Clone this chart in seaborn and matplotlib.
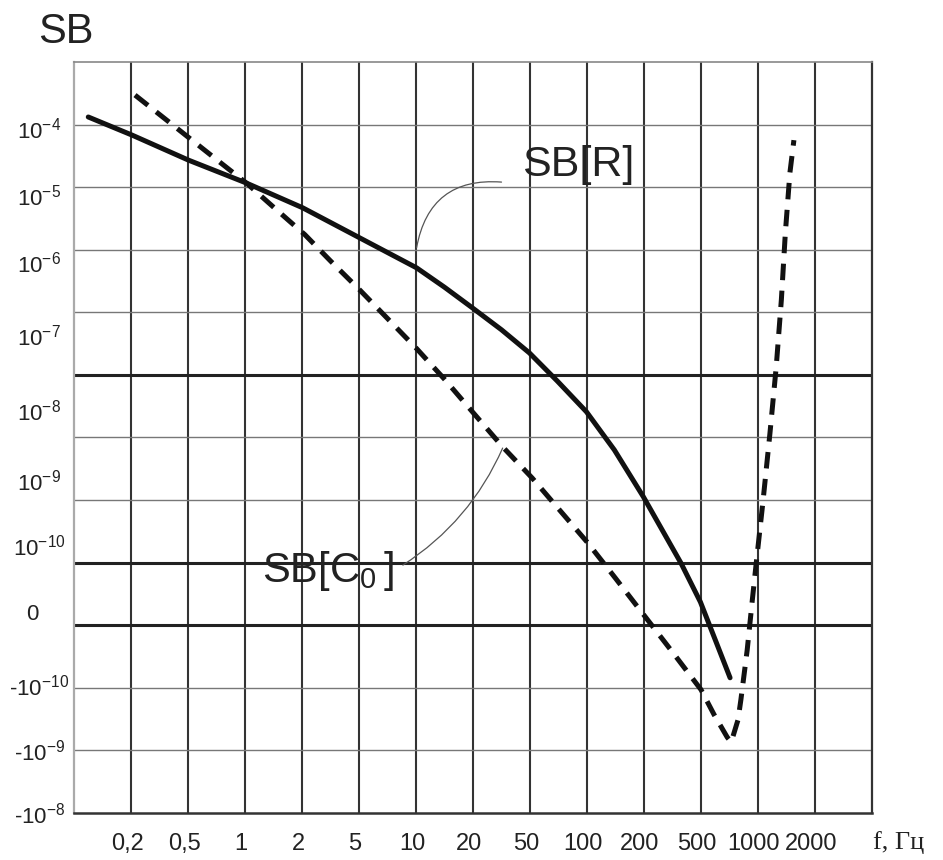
import matplotlib
matplotlib.use("Agg")
import matplotlib.pyplot as plt
import matplotlib.transforms as mtrans
import seaborn as sns
import pandas as pd

# ось f: номер колонки сетки (1 -> 0,2 Гц ... 13 -> 2000 Гц)
freq_ticks = [1, 2, 3, 4, 5, 6, 7, 8, 9, 10, 11, 12, 13]
freq_labels = ["0,2", "0,5", "1", "2", "5", "10", "20", "50",
               "100", "200", "500", "1000", "2000"]

# ось SB: подписи и их положение (в клетках сетки, снизу)
sb_ticks = [10.94, 9.87, 8.8, 7.64, 6.44, 5.32, 4.28, 3.21, 2.04, 1.01, 0.0]
sb_labels = [r"$\mathregular{10^{-4}}$", r"$\mathregular{10^{-5}}$",
             r"$\mathregular{10^{-6}}$", r"$\mathregular{10^{-7}}$",
             r"$\mathregular{10^{-8}}$", r"$\mathregular{10^{-9}}$",
             r"$\mathregular{10^{-10}}$", "0",
             "-" + r"$\mathregular{10^{-10}}$", "-" + r"$\mathregular{10^{-9}}$",
             "-" + r"$\mathregular{10^{-8}}$"]
thick_rows = [3, 4, 7]

# SB[R] - сплошная
sbr_x = [0.25, 1.02, 2.01, 3.01, 4.01, 5.01, 6.01, 6.5, 6.99, 7.5, 7.99,
         8.48, 8.99, 9.48, 9.99, 10.32, 10.65, 10.99, 11.27, 11.51]
sbr_y = [11.12, 10.83, 10.43, 10.07, 9.67, 9.19, 8.71, 8.40, 8.07, 7.72, 7.35,
         6.90, 6.41, 5.80, 5.05, 4.52, 3.99, 3.37, 2.72, 2.16]

# SB[C0] - пунктир
sbc_x = [1.07, 1.5, 2.0, 2.5, 3.03, 3.5, 4.05, 4.5, 5.02, 5.5, 6.01, 6.5,
         6.97, 7.52, 8.04, 8.5, 9.0, 9.5, 10.0, 10.5, 11.0, 11.23, 11.46,
         11.53, 11.65, 11.70, 11.81, 11.90, 11.97, 12.09, 12.21, 12.32,
         12.41, 12.48, 12.56, 12.63]
sbc_y = [11.47, 11.16, 10.80, 10.44, 10.06, 9.68, 9.24, 8.82, 8.35, 7.90,
         7.42, 6.93, 6.43, 5.85, 5.35, 4.86, 4.33, 3.75, 3.16, 2.57, 1.97,
         1.57, 1.21, 1.13, 1.49, 1.81, 2.60, 3.40, 4.00, 5.00, 6.07, 7.13,
         8.20, 9.27, 10.23, 10.75]

sns.set_style("white")
plt.rcParams["font.family"] = ["Liberation Sans", "DejaVu Sans"]

fig = plt.figure(figsize=(9.43, 8.6), dpi=100)
ax = fig.add_axes([0.0785, 0.0547, 0.8462, 0.8733])

# сетка
for x in freq_ticks:
    ax.axvline(x, color="#333333", lw=1.5, zorder=1)
for r in range(1, 12):
    if r in thick_rows:
        ax.axhline(r, color="#222222", lw=2.2, zorder=1)
    else:
        ax.axhline(r, color="#777777", lw=1.0, zorder=1)

df_r = pd.DataFrame({"f": sbr_x, "sb": sbr_y})
df_c = pd.DataFrame({"f": sbc_x, "sb": sbc_y})
sns.lineplot(data=df_r, x="f", y="sb", ax=ax, color="#111111", lw=3.6,
             sort=False, zorder=3)
sns.lineplot(data=df_c, x="f", y="sb", ax=ax, color="#111111", lw=3.6,
             sort=False, linestyle=(0, (3.3, 2.1)), zorder=3)

ax.set_xlim(0, 14)
ax.set_ylim(0, 12)
ax.set_xlabel("")
ax.set_ylabel("")
ax.set_xticks(freq_ticks)
ax.set_xticklabels(freq_labels, fontsize=17)
ax.set_yticks(sb_ticks)
ax.set_yticklabels(sb_labels, fontsize=16)
ax.tick_params(axis="x", length=0, pad=27, colors="#222222")
ax.tick_params(axis="y", length=0, pad=25, colors="#222222")

shift_x = mtrans.ScaledTranslation(-4 / 100, 0, fig.dpi_scale_trans)
for t in ax.get_xticklabels():
    t.set_va("baseline")
    t.set_transform(t.get_transform() + shift_x)
shift_zero = mtrans.ScaledTranslation(-7 / 100, 0, fig.dpi_scale_trans)
for t in ax.get_yticklabels():
    t.set_ha("center")
    if t.get_text() == "0":
        t.set_transform(t.get_transform() + shift_zero)

ax.spines["left"].set_color("#aaaaaa")
ax.spines["left"].set_linewidth(1.6)
ax.spines["top"].set_color("#888888")
ax.spines["top"].set_linewidth(1.2)
ax.spines["right"].set_color("#333333")
ax.spines["right"].set_linewidth(1.6)
ax.spines["bottom"].set_color("#333333")
ax.spines["bottom"].set_linewidth(1.8)

# подписи кривых с выносками
ax.text(7.86, 10.18, "SB[R]", fontsize=31, color="#222222", va="baseline",
        zorder=4)
ax.annotate("", xy=(6.01, 9.03), xytext=(7.50, 10.08),
            arrowprops=dict(arrowstyle="-", connectionstyle="arc3,rad=0.45",
                            color="#555555", lw=0.9, shrinkA=0, shrinkB=0))
ax.text(3.30, 3.69, r"SB[C$_{\mathregular{0}}\,$]", fontsize=30,
        color="#222222", va="baseline", zorder=4)
ax.annotate("", xy=(7.52, 5.83), xytext=(5.77, 3.96),
            arrowprops=dict(arrowstyle="-", connectionstyle="arc3,rad=0.15",
                            color="#555555", lw=0.9, shrinkA=0, shrinkB=0))

fig.text(38 / 943, 1 - 43 / 860, "SB", fontsize=30, color="#222222",
         ha="left", va="baseline")
fig.text(873 / 943, 1 - 843 / 860, "f, Гц", fontsize=19, color="#222222",
         family=["Liberation Serif", "DejaVu Serif"], ha="left", va="center")

fig.savefig("out.png", dpi=100)
